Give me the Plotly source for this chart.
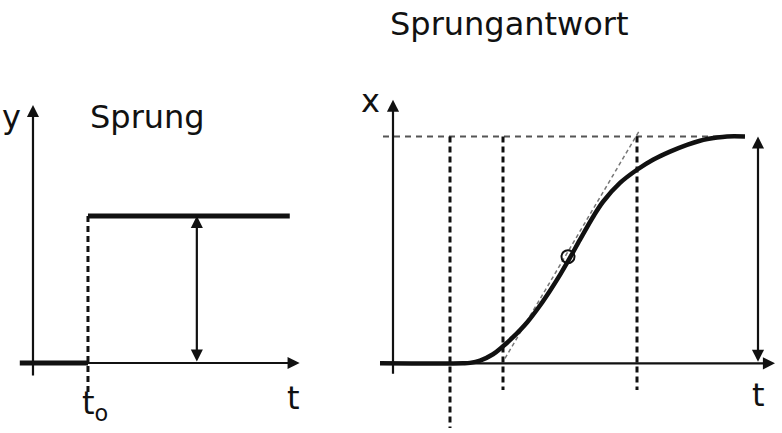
import plotly.graph_objects as go

# ---------------- data ----------------
# Left panel: step input (t in units of t0, y normalised to step height)
step_low_t = [-0.24, 1.0]
step_low_y = [0.0, 0.0]
step_high_t = [1.0, 4.67]
step_high_y = [1.0, 1.0]
t0_dash_t = [1.0, 1.0]
t0_dash_y = [1.0, -0.22]
left_arrow_t = 2.98          # position of double arrow (step height)
left_axis_t = [-0.24, 4.85]  # horizontal axis extent
left_axis_y = [-0.095, 1.755]

# Right panel: step response (x normalised to final value)
resp_t = [-0.26, 1.4, 1.54, 1.74, 2.0, 2.2, 2.4, 2.68, 2.94, 3.14, 3.34, 3.5, 3.74,
          4.0, 4.2, 4.54, 4.88, 5.2, 5.54, 5.88, 6.14, 6.48, 6.68, 7.04]
resp_x = [0.0, 0.0, 0.002, 0.012, 0.04, 0.075, 0.115, 0.18, 0.255, 0.32, 0.39, 0.45, 0.545,
          0.645, 0.712, 0.795, 0.853, 0.897, 0.933, 0.963, 0.981, 0.995, 1.0, 1.0]
inflection_t = [3.5]
inflection_x = [0.47]
tangent_t = [2.24, 4.94]
tangent_x = [0.022, 1.03]
vlines_t = [1.14, 2.2, 4.88]
vlines_bottom = [-0.285, -0.118, -0.118]
final_line_t = [-0.2, 7.04]
final_line_x = [1.0, 1.0]
right_arrow_t = 7.3
right_axis_t = [-0.26, 7.64]
right_axis_x = [-0.053, 1.162]

INK = "#111111"
fig = go.Figure()

# ---- left panel ----
fig.add_trace(go.Scatter(x=t0_dash_t, y=t0_dash_y, mode="lines", xaxis="x", yaxis="y",
                         line=dict(color=INK, width=3, dash="6px,4px")))
fig.add_trace(go.Scatter(x=step_low_t, y=step_low_y, mode="lines", xaxis="x", yaxis="y",
                         line=dict(color=INK, width=5)))
fig.add_trace(go.Scatter(x=step_high_t, y=step_high_y, mode="lines", xaxis="x", yaxis="y",
                         line=dict(color=INK, width=5)))

# ---- right panel ----
fig.add_trace(go.Scatter(x=final_line_t, y=final_line_x, mode="lines", xaxis="x2", yaxis="y2",
                         line=dict(color="#555555", width=2, dash="6px,5px")))
for vt, vb in zip(vlines_t, vlines_bottom):
    fig.add_trace(go.Scatter(x=[vt, vt], y=[final_line_x[0], vb], mode="lines",
                             xaxis="x2", yaxis="y2",
                             line=dict(color=INK, width=3, dash="6px,4px")))
fig.add_trace(go.Scatter(x=tangent_t, y=tangent_x, mode="lines", xaxis="x2", yaxis="y2",
                         line=dict(color="#777777", width=1.5, dash="4px,3px")))
fig.add_trace(go.Scatter(x=resp_t, y=resp_x, mode="lines", xaxis="x2", yaxis="y2",
                         line=dict(color=INK, width=4.5, shape="spline", smoothing=1.0)))
fig.add_trace(go.Scatter(x=inflection_t, y=inflection_x, mode="markers", xaxis="x2", yaxis="y2",
                         marker=dict(symbol="circle-open", size=13, color=INK,
                                     line=dict(width=2, color=INK))))

ann = []


def arrow(xr, yr, x, y, ax, ay, both=False):
    ann.append(dict(x=x, y=y, ax=ax, ay=ay, xref=xr, yref=yr, axref=xr, ayref=yr,
                    text="", showarrow=True, arrowhead=2, arrowsize=1.1, arrowwidth=2.2,
                    arrowcolor=INK, arrowside="end+start" if both else "end",
                    startarrowhead=2, startarrowsize=1.1, standoff=0, startstandoff=0))


# axes of left panel
arrow("x", "y", left_axis_t[1], 0, left_axis_t[0], 0)
arrow("x", "y", 0, left_axis_y[1], 0, left_axis_y[0])
arrow("x", "y", left_arrow_t, step_high_y[0], left_arrow_t, 0, both=True)
# axes of right panel
arrow("x2", "y2", right_axis_t[1], 0, right_axis_t[0], 0)
arrow("x2", "y2", 0, right_axis_x[1], 0, right_axis_x[0])
arrow("x2", "y2", right_arrow_t, 1.0, right_arrow_t, 0, both=True)


def label(xr, yr, x, y, txt, size=32):
    ann.append(dict(x=x, y=y, xref=xr, yref=yr, text=txt, showarrow=False,
                    xanchor="center", yanchor="middle",
                    font=dict(family="DejaVu Sans", size=size, color=INK)))


label("x", "y", -0.4, 1.673, "y")
label("x", "y", 2.09, 1.673, "Sprung")
label("x", "y", 4.73, -0.238, "t")
label("x", "y", 1.13, -0.285, "t<sub>o</sub>")
label("x2", "y2", -0.46, 1.158, "x")
label("x2", "y2", 7.3, -0.14, "t")
label("x2", "y2", 2.32, 1.496, "Sprungantwort")

ax_common = dict(visible=False, showgrid=False, zeroline=False, fixedrange=True)
fig.update_layout(
    width=782, height=433,
    margin=dict(l=0, r=0, t=0, b=0),
    paper_bgcolor="white", plot_bgcolor="white",
    showlegend=False,
    annotations=ann,
    xaxis=dict(domain=[0, 0.45], range=[-0.6, 5.8], **ax_common),
    yaxis=dict(domain=[0, 1], range=[-0.476, 2.469], **ax_common),
    xaxis2=dict(domain=[0.45, 1], range=[-0.822, 7.78], anchor="y2", **ax_common),
    yaxis2=dict(domain=[0, 1], range=[-0.307, 1.601], anchor="x2", **ax_common),
)

fig.write_html("out.html", config={"displayModeBar": False},
               post_script="document.body.style.margin='0';document.body.style.overflow='hidden';")
